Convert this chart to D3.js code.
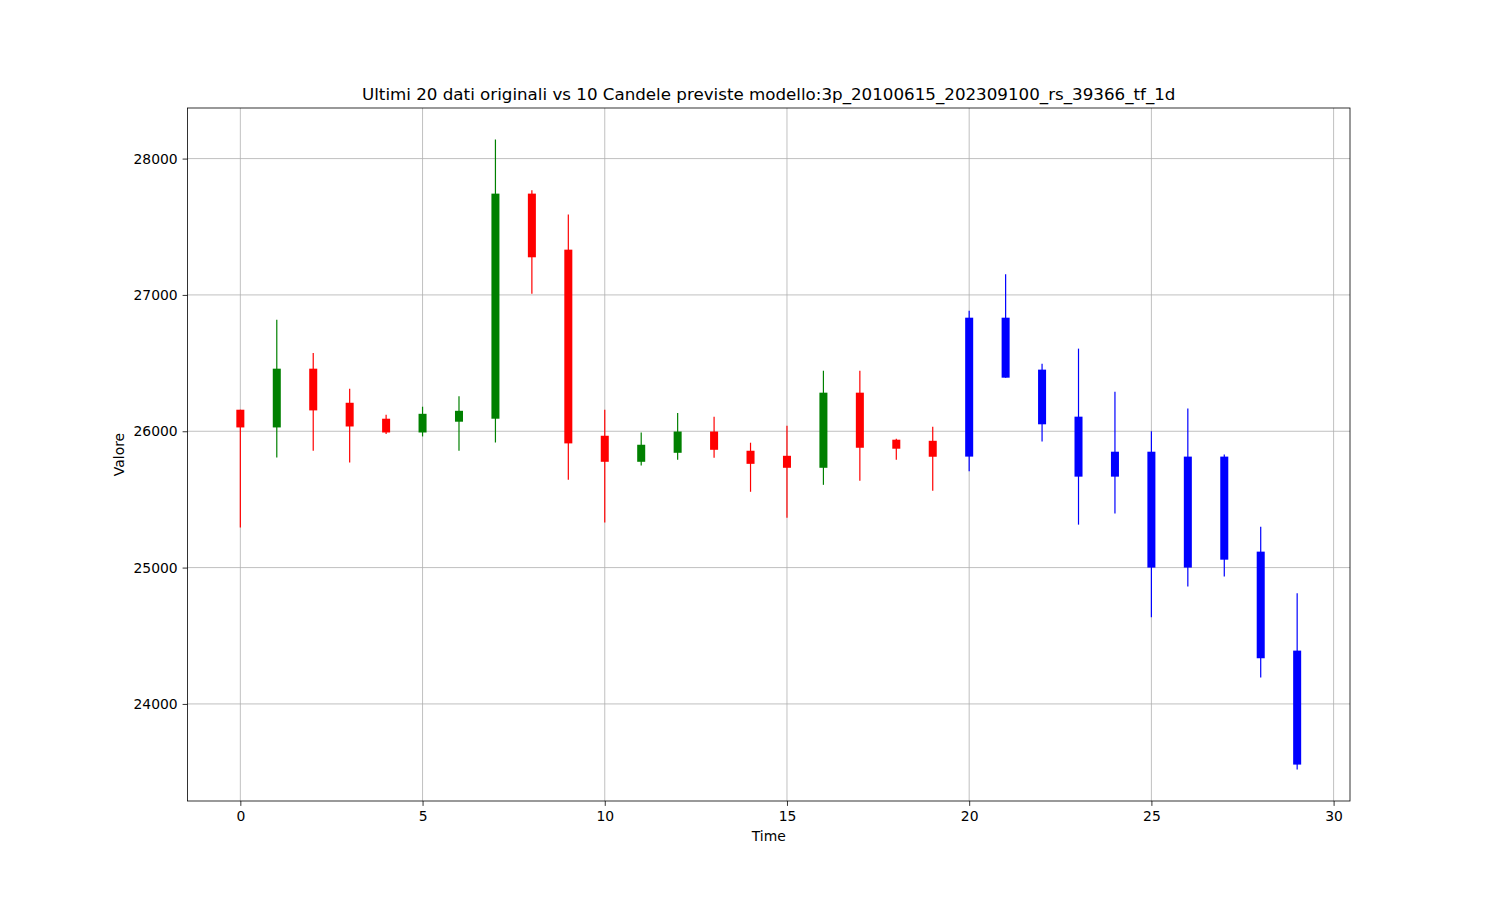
<!DOCTYPE html>
<html>
<head>
<meta charset="utf-8">
<script src="https://cdn.jsdelivr.net/npm/d3@7"></script>
<style>
  html, body { margin: 0; padding: 0; background: #fff; }
  svg { display: block; font-family: "DejaVu Sans", sans-serif; }
</style>
</head>
<body>
<script>
// ---- data ----
const times  = d3.range(30);
const opens  = [26158, 26028, 26459, 26209, 26092, 25991, 26070, 26092, 27743, 27332,
                25967, 25776, 25842, 25998, 25857, 25820, 25732, 26283, 25938, 25930,
                25814, 26833, 26452, 26107, 25667, 25850, 25000, 25814, 25117, 24391];
const highs  = [26158, 26818, 26574, 26312, 26121, 26180, 26256, 28140, 27768, 27589,
                26158, 25991, 26134, 26106, 25916, 26040, 26444, 26444, 25945, 26033,
                26884, 27152, 26496, 26606, 26290, 26000, 26166, 25829, 25299, 24811];
const lows   = [25294, 25808, 25857, 25771, 25979, 25962, 25857, 25918, 27009, 25644,
                25331, 25749, 25791, 25806, 25556, 25365, 25607, 25637, 25791, 25563,
                25706, 26393, 25925, 25315, 25397, 24636, 24862, 24934, 24193, 23519];
const closes = [26028, 26459, 26153, 26035, 25991, 26128, 26150, 27743, 27276, 25911,
                25776, 25901, 25998, 25864, 25761, 25732, 26283, 25879, 25872, 25813,
                26833, 26393, 26051, 25667, 25850, 25000, 25814, 25058, 24335, 23555];
const nOriginal = 20;
const xTicks = [0, 5, 10, 15, 20, 25, 30];
const yTicks = [24000, 25000, 26000, 27000, 28000];
const title = "Ultimi 20 dati originali vs 10 Candele previste modello:3p_20100615_202309100_rs_39366_tf_1d";

// ---- layout ----
const W = 1500, H = 900;
const L = 187.5, R = 1350, T = 108, B = 801;

const svg = d3.select("body").append("svg").attr("width", W).attr("height", H);

const xMin = d3.min(times), xMax = d3.max(times);
const xPad = (xMax - xMin) * 0.05;
const x = d3.scaleLinear().domain([xMin - xPad, xMax + xPad]).range([L, R]);
const yLo = d3.min(lows), yHi = d3.max(highs);
const yPad = (yHi - yLo) * 0.05;
const y = d3.scaleLinear().domain([yLo - yPad, yHi + yPad]).range([B, T]);

// grid
const grid = svg.append("g");
grid.selectAll("line.gx").data(xTicks).join("line")
  .attr("x1", d => x(d)).attr("x2", d => x(d)).attr("y1", T).attr("y2", B)
  .attr("stroke", "#b0b0b0").attr("stroke-width", 0.8);
grid.selectAll("line.gy").data(yTicks).join("line")
  .attr("y1", d => y(d)).attr("y2", d => y(d)).attr("x1", L).attr("x2", R)
  .attr("stroke", "#b0b0b0").attr("stroke-width", 0.8);

const color = i => i >= nOriginal ? "#0000ff" : (closes[i] >= opens[i] ? "#008000" : "#ff0000");

// wicks
svg.append("g").selectAll("line").data(times).join("line")
  .attr("x1", i => x(i)).attr("x2", i => x(i))
  .attr("y1", i => y(highs[i])).attr("y2", i => y(lows[i]))
  .attr("stroke", i => color(i)).attr("stroke-width", 1.2);

// bodies
const bw = 0.22;
svg.append("g").selectAll("rect").data(times).join("rect")
  .attr("x", i => x(i - bw / 2))
  .attr("width", i => x(i + bw / 2) - x(i - bw / 2))
  .attr("y", i => y(Math.max(opens[i], closes[i])))
  .attr("height", i => Math.max(1, y(Math.min(opens[i], closes[i])) - y(Math.max(opens[i], closes[i]))))
  .attr("fill", i => color(i));

// axes
const xAxis = d3.axisBottom(x).tickValues(xTicks).tickSize(4.9).tickPadding(4.9).tickFormat(d3.format("d"));
const yAxis = d3.axisLeft(y).tickValues(yTicks).tickSize(4.9).tickPadding(4.9).tickFormat(d3.format("d"));
const gx = svg.append("g").attr("transform", `translate(0,${B})`).call(xAxis);
const gy = svg.append("g").attr("transform", `translate(${L},0)`).call(yAxis);
[gx, gy].forEach(g => {
  g.select(".domain").remove();
  g.selectAll("line").attr("stroke", "#000").attr("stroke-width", 0.8);
  g.selectAll("text").attr("fill", "#000").style("font-size", "13.9px").style("font-family", "DejaVu Sans");
});

// frame
svg.append("rect").attr("x", L).attr("y", T).attr("width", R - L).attr("height", B - T)
  .attr("fill", "none").attr("stroke", "#000").attr("stroke-width", 0.8);

// labels
svg.append("text").attr("x", (L + R) / 2).attr("y", 100).attr("text-anchor", "middle")
  .style("font-size", "16.7px").text(title);
svg.append("text").attr("x", (L + R) / 2).attr("y", 841).attr("text-anchor", "middle")
  .style("font-size", "13.9px").text("Time");
svg.append("text").attr("transform", `translate(124,${(T + B) / 2}) rotate(-90)`).attr("text-anchor", "middle")
  .style("font-size", "13.9px").text("Valore");
</script>
</body>
</html>
